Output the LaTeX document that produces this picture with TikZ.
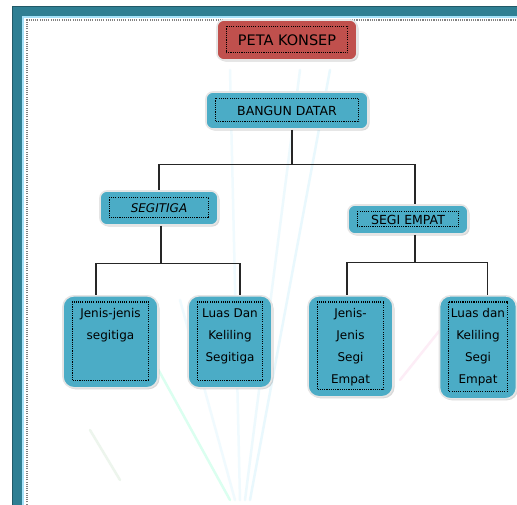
\documentclass[tikz,border=0pt]{standalone}
\usepackage{fontspec}
\setmainfont{DejaVu Sans}
\usetikzlibrary{shadows}
\definecolor{boxblue}{HTML}{4BACC6}
\definecolor{boxred}{HTML}{C0504D}
\definecolor{frameteal}{HTML}{2F7F93}
\tikzset{
  box/.style={rounded corners=7pt, draw=gray!20, line width=1.6pt, fill=boxblue, inner sep=0pt,
    drop shadow={shadow xshift=1.5pt, shadow yshift=-1.5pt, opacity=.3}},
  titlebox/.style={box, fill=boxred},
  leafbox/.style={box, rounded corners=11pt, anchor=north, text height=22pt, text depth=#1},
  link/.style={line width=1.1pt, black!85},
  dotline/.style={line width=1.1pt, dash pattern=on 1.1pt off 1.1pt},
  streak/.style={line width=2.5pt, line cap=round, opacity=.14},
}
\newcommand{\leaftext}[1]{\parbox[t]{72pt}{\centering #1}}
\begin{document}
\begin{tikzpicture}[x=1pt, y=-1pt, font=\fontsize{12}{22}\selectfont]
  \useasboundingbox (0,0) rectangle (517,504);
  \clip (0,0) rectangle (517,504);
  % page frame
  \fill[frameteal!70!black] (12,6) rectangle (530,520);
  \fill[frameteal] (13,7) rectangle (530,520);
  \fill[cyan!35] (22,16) rectangle (530,520);
  \fill[white] (24,18) rectangle (530,520);
  \draw[gray, dotline] (27,520) -- (27,20) -- (530,20);
  % faint background streaks
  \foreach \a/\b/\c in {250/330/cyan!60, 245/300/cyan!50, 240/230/cyan!40, 235/180/cyan!40, 230/120/green!40!cyan}
    \draw[streak, \c] (\a,500) -- (\b,{\b < 200 ? 300 : 70});
  \draw[streak, magenta!50] (400,380) -- (440,330);
  \draw[streak, green!50!black!50] (90,430) -- (120,480);

  % concept boxes
  \node[titlebox, minimum width=140pt, minimum height=40pt, font=\fontsize{14.5}{16}\selectfont] (peta) at (287,40) {PETA KONSEP};
  \node[box, minimum width=162pt, minimum height=37pt, font=\fontsize{12.5}{14}\selectfont] (bd) at (287,110.5) {BANGUN DATAR};
  \node[box, minimum width=118pt, minimum height=34pt, font=\fontsize{12}{14}\selectfont\itshape] (seg) at (159,208) {SEGITIGA};
  \node[box, minimum width=120pt, minimum height=29pt, font=\fontsize{12.5}{14}\selectfont] (se) at (408,219.5) {SEGI EMPAT};
  \node[leafbox=70pt, minimum width=95pt] (b1) at (110.5,295) {\leaftext{Jenis-jenis\\segitiga}};
  \node[leafbox=70pt, minimum width=84pt] (b2) at (230,295) {\leaftext{Luas Dan\\Keliling\\Segitiga}};
  \node[leafbox=79pt, minimum width=85pt] (b3) at (350.5,295) {\leaftext{Jenis-\\Jenis\\Segi\\Empat}};
  \node[leafbox=81pt, minimum width=77pt] (b4) at (478,295) {\leaftext{Luas dan\\Keliling\\Segi\\Empat}};

  % dotted text frames
  \foreach \n in {peta,bd,seg,se,b1,b2,b3,b4}
    \draw[dotline] ([xshift=10pt,yshift=-7pt]\n.north west) rectangle ([xshift=-10pt,yshift=8pt]\n.south east);

  % connectors
  \draw[link] ([xshift=5pt]bd.south) -- ++(0,35) -| (seg.north);
  \draw[link] ([xshift=5pt]bd.south) -- ++(0,35) -| ([xshift=7pt]se.north);
  \draw[link] ([xshift=2pt]seg.south) -- ++(0,38) -| ([xshift=-14.5pt]b1.north);
  \draw[link] ([xshift=2pt]seg.south) -- ++(0,38) -| ([xshift=10pt]b2.north);
  \draw[link] ([xshift=7pt]se.south) -- ++(0,28) -| ([xshift=-3.5pt]b3.north);
  \draw[link] ([xshift=7pt]se.south) -- ++(0,28) -| ([xshift=9.5pt]b4.north);
\end{tikzpicture}
\end{document}
